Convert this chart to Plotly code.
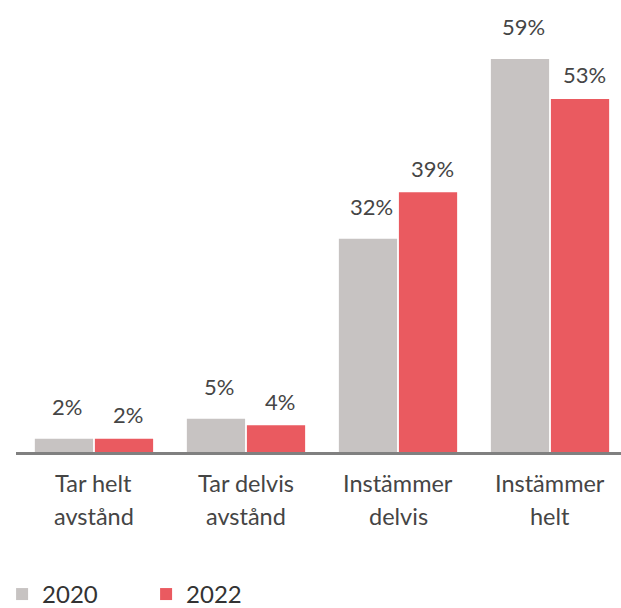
import plotly.graph_objects as go

categories = ["Tar helt<br>avstånd", "Tar delvis<br>avstånd", "Instämmer<br>delvis", "Instämmer<br>helt"]
series_names = ["2020", "2022"]
values_2020 = [2, 5, 32, 59]
values_2022 = [2, 4, 39, 53]
colors = ["#c7c3c2", "#ea5a60"]

FONT = "Lato, Arial, sans-serif"
TXT = "#454545"

fig = go.Figure()
for name, vals, col in zip(series_names, [values_2020, values_2022], colors):
    fig.add_trace(go.Bar(x=categories, y=vals, name=name, marker_color=col,
                         marker_line_width=0, hoverinfo="skip"))

annotations = []
# value labels
for vals, xs, ys in [(values_2020, -27, 32), (values_2022, 34, 24)]:
    for c, v in zip(categories, vals):
        annotations.append(dict(x=c, y=v, xref="x", yref="y", text=f"{v}%",
                                showarrow=False, xshift=xs, yshift=ys,
                                yanchor="middle",
                                font=dict(family=FONT, size=22, color=TXT)))
# category labels, line by line
for c in categories:
    for i, line in enumerate(c.split("<br>")):
        annotations.append(dict(x=c, y=0, xref="x", yref="y", text=line,
                                showarrow=False, yshift=-31 - 33 * i,
                                yanchor="middle",
                                font=dict(family=FONT, size=23.5, color=TXT)))

fig.update_layout(
    width=621, height=608,
    margin=dict(l=16, r=0, t=19, b=156, autoexpand=False),
    paper_bgcolor="white", plot_bgcolor="white",
    barmode="group", bargap=0.21, bargroupgap=0.03,
    font=dict(family=FONT, size=22, color=TXT),
    showlegend=True,
    legend=dict(orientation="h", x=-0.023, xanchor="left", y=-0.329, yanchor="middle",
                entrywidth=99, entrywidthmode="pixels",
                font=dict(family=FONT, size=24, color="#333333"),
                itemclick=False),
    annotations=annotations,
)
fig.update_xaxes(range=[-0.513, 3.467], showticklabels=False, showline=True,
                 linecolor="#808080", linewidth=2.5, ticks="", showgrid=False,
                 zeroline=False, fixedrange=True)
fig.update_yaxes(range=[0, 65], visible=False, showgrid=False, zeroline=False,
                 fixedrange=True)

fig.write_html("out.html")
